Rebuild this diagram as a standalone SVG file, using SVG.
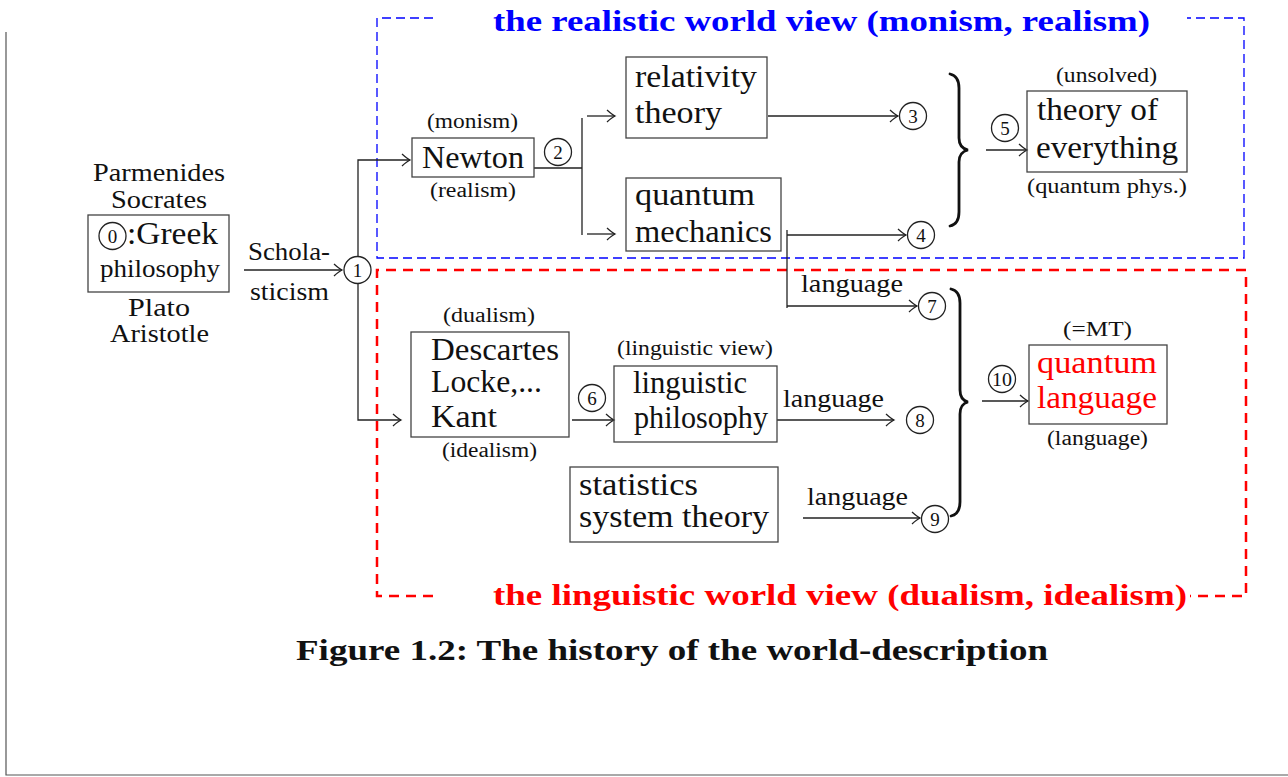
<svg xmlns="http://www.w3.org/2000/svg" width="1288" height="777" viewBox="0 0 1288 777">
<style>
text{fill:#111}
.big{font-size:31px}
.mid{font-size:25px}
.sm{font-size:20px}
.num{font-size:19px;text-anchor:middle}
.red{fill:#ff0000}
.title{font-size:29px;font-weight:bold}
.box{fill:none;stroke:#444;stroke-width:1.3}
.circ{fill:none;stroke:#222;stroke-width:1.3}
.ln{fill:none;stroke:#222;stroke-width:1.3}
.arr{fill:none;stroke:#222;stroke-width:1.3;marker-end:url(#ah)}
.brace{fill:none;stroke:#111;stroke-width:2.8;stroke-linecap:round}
</style>
<defs>
<marker id="ah" viewBox="-10 -7 12 14" refX="0" refY="0" markerWidth="12" markerHeight="14" markerUnits="userSpaceOnUse" orient="auto">
<path d="M-8,-6 Q-3,-1.5 0,0 Q-3,1.5 -8,6" fill="none" stroke="#222" stroke-width="1.3"/>
</marker>
</defs>
<rect width="1288" height="777" fill="#fff"/>
<path d="M6,32 V775 H1288" fill="none" stroke="#555" stroke-width="1.2"/>
<g font-family="Liberation Serif, Times New Roman, Times, serif">

<g id="frame-realistic">
<path d="M433,18 H377 V258 H1244 V18 H1187" fill="none" stroke="#0000ff" stroke-width="1.3" stroke-dasharray="9 5"/>
<text class="title" x="493" y="31" textLength="657" lengthAdjust="spacingAndGlyphs" style="fill:#0000ff">the realistic world view (monism, realism)</text>
</g>
<g id="frame-linguistic">
<path d="M433,596 H377 V270 H1246 V596 H1190" fill="none" stroke="#ff0000" stroke-width="2.5" stroke-dasharray="10 7"/>
<text class="title red" x="493" y="605" textLength="694" lengthAdjust="spacingAndGlyphs">the linguistic world view (dualism, idealism)</text>
</g>

<g id="connectors">
<line class="arr" x1="244" y1="270" x2="342" y2="270"/>
<path class="arr" d="M358,256 V160 H410"/>
<path class="arr" d="M358,284 V420 H401"/>
<path class="ln" d="M534,168 H582 M582,118 V235"/>
<line class="arr" x1="587" y1="116" x2="615" y2="116"/>
<line class="arr" x1="587" y1="234" x2="615" y2="234"/>
<line class="arr" x1="768" y1="116" x2="898" y2="116"/>
<path class="ln" d="M787,230 V308"/>
<line class="arr" x1="787" y1="235" x2="906" y2="235"/>
<line class="arr" x1="787" y1="306" x2="917" y2="306"/>
<path class="brace" d="M950,74 Q959,76 959,88 L959,138 Q959,148 968,150 Q959,152 959,162 L959,212 Q959,224 950,226"/>
<line class="arr" x1="986" y1="150" x2="1027" y2="150"/>
<line class="arr" x1="572" y1="420" x2="614" y2="420"/>
<line class="arr" x1="777" y1="420" x2="894" y2="420"/>
<line class="arr" x1="803" y1="518" x2="920" y2="518"/>
<path class="brace" d="M951,289 Q960,291 960,303 L960,390 Q960,400 968,402 Q960,404 960,414 L960,502 Q960,514 951,516"/>
<line class="arr" x1="982" y1="401" x2="1028" y2="401"/>
<text class="mid" x="248" y="260" textLength="82" lengthAdjust="spacingAndGlyphs">Schola-</text>
<text class="mid" x="250" y="300" textLength="79" lengthAdjust="spacingAndGlyphs">sticism</text>
<text class="mid" x="801" y="292" textLength="102" lengthAdjust="spacingAndGlyphs">language</text>
<text class="mid" x="783" y="407" textLength="101" lengthAdjust="spacingAndGlyphs">language</text>
<text class="mid" x="807" y="505" textLength="101" lengthAdjust="spacingAndGlyphs">language</text>
</g>

<g id="greek">
<text class="mid" x="93" y="181" textLength="132" lengthAdjust="spacingAndGlyphs">Parmenides</text>
<text class="mid" x="111" y="208" textLength="96" lengthAdjust="spacingAndGlyphs">Socrates</text>
<rect class="box" x="88" y="215" width="141" height="77"/>
<circle class="circ" cx="112.5" cy="236" r="13.5"/>
<text class="num" x="112.5" y="243">0</text>
<text class="big" x="127" y="244" textLength="91" lengthAdjust="spacingAndGlyphs">:Greek</text>
<text class="mid" x="100" y="277" textLength="120" lengthAdjust="spacingAndGlyphs">philosophy</text>
<text class="mid" x="128" y="316" textLength="62" lengthAdjust="spacingAndGlyphs">Plato</text>
<text class="mid" x="110" y="342" textLength="99" lengthAdjust="spacingAndGlyphs">Aristotle</text>
</g>
<g id="n1"><circle class="circ" cx="357.5" cy="270" r="13.5"/><text class="num" x="357.5" y="277">1</text></g>
<g id="newton">
<text class="sm" x="427" y="128" textLength="91" lengthAdjust="spacingAndGlyphs">(monism)</text>
<rect class="box" x="412" y="138" width="122" height="39"/>
<text class="big" x="422" y="168" textLength="102" lengthAdjust="spacingAndGlyphs">Newton</text>
<text class="sm" x="430" y="197" textLength="86" lengthAdjust="spacingAndGlyphs">(realism)</text>
</g>
<g id="n2"><circle class="circ" cx="558" cy="152" r="13.5"/><text class="num" x="558" y="159">2</text></g>
<g id="relativity">
<rect class="box" x="626" y="57" width="141" height="81"/>
<text class="big" x="635" y="87" textLength="122" lengthAdjust="spacingAndGlyphs">relativity</text>
<text class="big" x="635" y="123" textLength="87" lengthAdjust="spacingAndGlyphs">theory</text>
</g>
<g id="quantum-mechanics">
<rect class="box" x="626" y="178" width="155" height="73"/>
<text class="big" x="635" y="205" textLength="120" lengthAdjust="spacingAndGlyphs">quantum</text>
<text class="big" x="635" y="242" textLength="137" lengthAdjust="spacingAndGlyphs">mechanics</text>
</g>
<g id="n3"><circle class="circ" cx="913" cy="116" r="13.5"/><text class="num" x="913" y="123">3</text></g>
<g id="n4"><circle class="circ" cx="921" cy="235" r="13.5"/><text class="num" x="921" y="242">4</text></g>
<g id="n5"><circle class="circ" cx="1005" cy="128" r="13.5"/><text class="num" x="1005" y="135">5</text></g>
<g id="toe">
<text class="sm" x="1056" y="82" textLength="101" lengthAdjust="spacingAndGlyphs">(unsolved)</text>
<rect class="box" x="1027" y="91" width="160" height="81"/>
<text class="big" x="1037" y="120" textLength="121" lengthAdjust="spacingAndGlyphs">theory of</text>
<text class="big" x="1036" y="158" textLength="142" lengthAdjust="spacingAndGlyphs">everything</text>
<text class="sm" x="1027" y="193" textLength="160" lengthAdjust="spacingAndGlyphs">(quantum phys.)</text>
</g>
<g id="descartes">
<text class="sm" x="443" y="322" textLength="92" lengthAdjust="spacingAndGlyphs">(dualism)</text>
<rect class="box" x="411" y="332" width="158" height="105"/>
<text class="big" x="431" y="360" textLength="128" lengthAdjust="spacingAndGlyphs">Descartes</text>
<text class="big" x="431" y="392" textLength="111" lengthAdjust="spacingAndGlyphs">Locke,...</text>
<text class="big" x="431" y="427" textLength="66" lengthAdjust="spacingAndGlyphs">Kant</text>
<text class="sm" x="442" y="457" textLength="95" lengthAdjust="spacingAndGlyphs">(idealism)</text>
</g>
<g id="n6"><circle class="circ" cx="592" cy="398" r="13.5"/><text class="num" x="592" y="405">6</text></g>
<g id="linguistic-philosophy">
<text class="sm" x="617" y="355" textLength="156" lengthAdjust="spacingAndGlyphs">(linguistic view)</text>
<rect class="box" x="614" y="366" width="163" height="76"/>
<text class="big" x="633" y="393" textLength="114" lengthAdjust="spacingAndGlyphs">linguistic</text>
<text class="big" x="634" y="428" textLength="134" lengthAdjust="spacingAndGlyphs">philosophy</text>
</g>
<g id="statistics">
<rect class="box" x="570" y="467" width="208" height="75"/>
<text class="big" x="579" y="495" textLength="119" lengthAdjust="spacingAndGlyphs">statistics</text>
<text class="big" x="579" y="527" textLength="190" lengthAdjust="spacingAndGlyphs">system theory</text>
</g>
<g id="n7"><circle class="circ" cx="932" cy="306" r="13.5"/><text class="num" x="932" y="313">7</text></g>
<g id="n8"><circle class="circ" cx="920" cy="420" r="13.5"/><text class="num" x="920" y="427">8</text></g>
<g id="n9"><circle class="circ" cx="935" cy="519" r="13.5"/><text class="num" x="935" y="526">9</text></g>
<g id="n10"><circle class="circ" cx="1002" cy="379" r="13.5"/><text class="num" x="1002" y="386" textLength="20" lengthAdjust="spacingAndGlyphs">10</text></g>
<g id="quantum-language">
<text class="sm" x="1063" y="336" textLength="69" lengthAdjust="spacingAndGlyphs">(=MT)</text>
<rect class="box" x="1029" y="345" width="138" height="79"/>
<text class="big red" x="1037" y="373" textLength="120" lengthAdjust="spacingAndGlyphs">quantum</text>
<text class="big red" x="1037" y="408" textLength="120" lengthAdjust="spacingAndGlyphs">language</text>
<text class="sm" x="1047" y="445" textLength="101" lengthAdjust="spacingAndGlyphs">(language)</text>
</g>

<text class="title" x="296" y="660" textLength="752" lengthAdjust="spacingAndGlyphs">Figure 1.2: The history of the world-description</text>
</g>
</svg>
